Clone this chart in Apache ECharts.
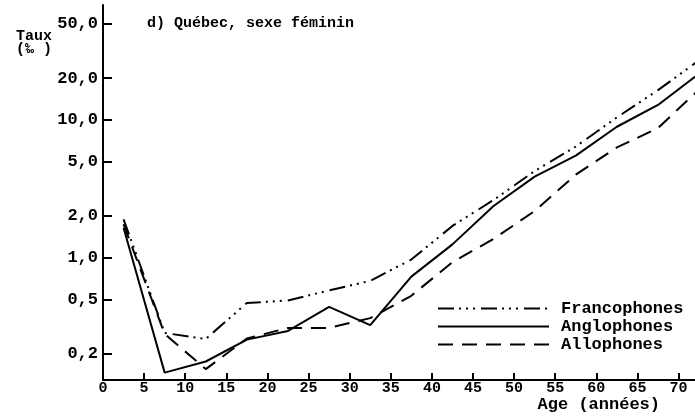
<!DOCTYPE html>
<html>
<head>
<meta charset="utf-8">
<script src="https://cdn.jsdelivr.net/npm/echarts@6.0.0/dist/echarts.min.js"></script>
<style>
html,body{margin:0;padding:0;background:#fff;}
#chart{width:695px;height:417px;}
</style>
</head>
<body>
<div id="chart"></div>
<script>
// ---- data ----
const ages = [2.5, 7.5, 12.5, 17.5, 22.5, 27.5, 32.5, 37.5, 42.5, 47.5, 52.5, 57.5, 62.5, 67.5, 72.5];
const francophones = [1.9, 0.285, 0.258, 0.47, 0.49, 0.58, 0.68, 0.97, 1.70, 2.62, 4.25, 6.4, 10.4, 16.4, 27];
const anglophones  = [1.65, 0.147, 0.177, 0.255, 0.295, 0.44, 0.325, 0.73, 1.25, 2.37, 3.87, 5.5, 8.9, 12.8, 21.6];
const allophones   = [1.75, 0.28, 0.156, 0.26, 0.31, 0.31, 0.365, 0.53, 0.93, 1.37, 2.18, 4.0, 6.3, 8.7, 16.6];
const seriesNames = ['Francophones', 'Anglophones', 'Allophones'];
const yTickValues = [0.2, 0.5, 1, 2, 5, 10, 20, 50];
const yTickLabels = ['0,2', '0,5', '1,0', '2,0', '5,0', '10,0', '20,0', '50,0'];
const xTicks = [0, 5, 10, 15, 20, 25, 30, 35, 40, 45, 50, 55, 60, 65, 70];
const titleText = 'd) Québec, sexe féminin';
const yName = 'Taux\n(‰ )';
const xName = 'Age (années)';

// ---- chart ----
const FONT = '"Liberation Mono", "DejaVu Sans Mono", monospace';
const log = v => Math.log10(v);
const toPairs = arr => ages.map((a, i) => [a, log(arr[i])]);

const chart = echarts.init(document.getElementById('chart'), null, {renderer: 'canvas'});
chart.setOption({
  animation: false,
  backgroundColor: '#fff',
  title: [
    {text: titleText, left: 147, top: 16, padding: 0,
     textStyle: {fontFamily: FONT, fontWeight: 'bold', fontSize: 15, color: '#000'}},
    {text: yName, left: 16, top: 30, padding: 0,
     textStyle: {fontFamily: FONT, fontWeight: 'bold', fontSize: 15, lineHeight: 13, color: '#000'}}
  ],
  grid: {left: 103, right: 0, top: 5, bottom: 37, containLabel: false},
  legend: {
    orient: 'vertical', left: 437, top: 300, padding: 0,
    itemWidth: 111, itemHeight: 14, itemGap: 1,
    data: seriesNames,
    itemStyle: {opacity: 0},
    textStyle: {fontFamily: FONT, fontWeight: 'bold', fontSize: 17, color: '#000', padding: [0, 0, 0, 7]}
  },
  xAxis: {
    type: 'value', min: 0, max: 72,
    name: xName, nameLocation: 'end', nameGap: -35,
    nameTextStyle: {fontFamily: FONT, fontWeight: 'bold', fontSize: 17, color: '#000',
                    align: 'right', verticalAlign: 'top', padding: [16, 0, 0, 0]},
    axisLine: {onZero: false, lineStyle: {color: '#000', width: 2}},
    axisTick: {inside: true, length: 7, lineStyle: {color: '#000', width: 2}, customValues: xTicks},
    axisLabel: {customValues: xTicks, margin: 1, fontFamily: FONT, fontWeight: 'bold', fontSize: 15, color: '#000'},
    splitLine: {show: false}
  },
  yAxis: {
    type: 'value', min: log(0.13), max: log(67.9),
    axisLine: {show: true, onZero: false, lineStyle: {color: '#000', width: 2}},
    axisTick: {show: true, inside: true, length: 9, lineStyle: {color: '#000', width: 2},
               customValues: yTickValues.map(log)},
    axisLabel: {
      customValues: yTickValues.map(log), margin: 5,
      fontFamily: FONT, fontWeight: 'bold', fontSize: 17, color: '#000',
      formatter: v => {
        const i = yTickValues.findIndex(t => Math.abs(log(t) - v) < 1e-6);
        return i >= 0 ? yTickLabels[i] : '';
      }
    },
    splitLine: {show: false}
  },
  series: [
    {name: seriesNames[0], type: 'line', symbol: 'none', data: toPairs(francophones),
     lineStyle: {color: '#000', width: 2, type: [16, 5, 2, 5, 2, 5, 2, 6]}, itemStyle: {color: '#000'}},
    {name: seriesNames[1], type: 'line', symbol: 'none', data: toPairs(anglophones),
     lineStyle: {color: '#000', width: 2, type: 'solid'}, itemStyle: {color: '#000'}},
    {name: seriesNames[2], type: 'line', symbol: 'none', data: toPairs(allophones),
     lineStyle: {color: '#000', width: 2, type: [15, 9]}, itemStyle: {color: '#000'}}
  ]
});
</script>
</body>
</html>
